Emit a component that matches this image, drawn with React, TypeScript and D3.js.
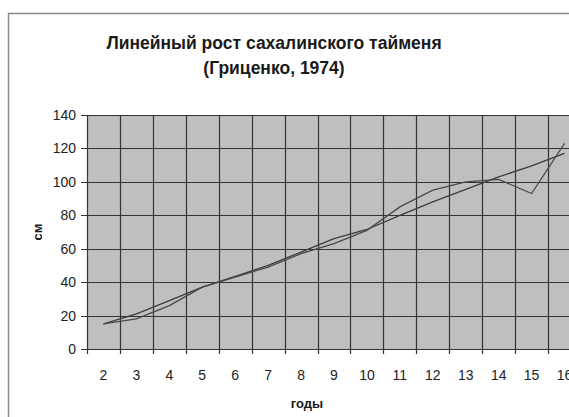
import React, { useEffect, useRef } from 'react';
import * as d3 from 'd3';

const width = 569;
const height = 417;

const margin = { top: 115, left: 87, plotRight: 581, bottom: 349 };

const years = ['2', '3', '4', '5', '6', '7', '8', '9', '10', '11', '12', '13', '14', '15', '16'];
// observed lengths, cm
const observed = [15, 18, 26, 37, 43, 49, 57, 63, 71, 85, 95, 100, 101.5, 93, 123];
// fitted curve, cm
const fitted = [15, 21, 29, 37, 43.5, 50, 58, 66, 71.5, 80, 88, 95.5, 103, 109.5, 117];
const yTicks = [0, 20, 40, 60, 80, 100, 120, 140];

const font = '"Liberation Sans", Arial, sans-serif';

export default function App() {
  const ref = useRef<SVGSVGElement>(null);

  useEffect(() => {
    const svg = d3.select(ref.current);
    svg.selectAll('*').remove();

    const x = d3.scaleBand<string>().domain(years).range([margin.left, margin.plotRight]).paddingInner(0).paddingOuter(0);
    const y = d3.scaleLinear().domain([0, 140]).range([margin.bottom, margin.top]);
    const cx = (d: string) => (x(d) as number) + x.bandwidth() / 2;

    // chart frame
    svg.append('rect')
      .attr('x', 8.5).attr('y', 13.5)
      .attr('width', 700).attr('height', 500)
      .attr('fill', '#fff').attr('stroke', '#8a8a8a').attr('stroke-width', 1.5);

    // plot area
    svg.append('rect')
      .attr('x', margin.left).attr('y', margin.top)
      .attr('width', margin.plotRight - margin.left).attr('height', margin.bottom - margin.top)
      .attr('fill', '#bfbfbf');

    const grid = svg.append('g').attr('stroke', '#333').attr('stroke-width', 1.2);
    grid.selectAll('.h').data(yTicks).enter().append('line')
      .attr('x1', margin.left - 6).attr('x2', margin.plotRight)
      .attr('y1', d => Math.round(y(d)) + 0.5).attr('y2', d => Math.round(y(d)) + 0.5);

    const bounds = years.map(d => x(d) as number).concat([margin.plotRight]);
    grid.selectAll('.v').data(bounds).enter().append('line')
      .attr('x1', d => Math.round(d) + 0.5).attr('x2', d => Math.round(d) + 0.5)
      .attr('y1', margin.top).attr('y2', margin.bottom + 5);

    // y tick labels
    svg.append('g').selectAll('text').data(yTicks).enter().append('text')
      .attr('x', 76).attr('y', d => y(d) + 5)
      .attr('text-anchor', 'end')
      .attr('font-family', font).attr('font-size', 14).attr('fill', '#222')
      .text(d => d);

    // x tick labels
    svg.append('g').selectAll('text').data(years).enter().append('text')
      .attr('x', d => cx(d)).attr('y', 380)
      .attr('text-anchor', 'middle')
      .attr('font-family', font).attr('font-size', 14).attr('fill', '#222')
      .text(d => d);

    const line = d3.line<number>()
      .x((d, i) => cx(years[i]))
      .y(d => y(d));

    svg.append('path').datum(fitted)
      .attr('d', line).attr('fill', 'none').attr('stroke', '#3c3c3c').attr('stroke-width', 1.3);
    svg.append('path').datum(observed)
      .attr('d', line).attr('fill', 'none').attr('stroke', '#4a4a4a').attr('stroke-width', 1.3);

    // titles
    const title = svg.append('text')
      .attr('x', 274).attr('text-anchor', 'middle')
      .attr('font-family', font).attr('font-size', 17.5).attr('font-weight', 'bold').attr('fill', '#1a1a1a');
    title.append('tspan').attr('x', 274).attr('y', 49).text('Линейный рост сахалинского тайменя');
    title.append('tspan').attr('x', 274).attr('y', 74).text('(Гриценко, 1974)');

    svg.append('text')
      .attr('transform', 'translate(42,' + (margin.top + margin.bottom) / 2 + ') rotate(-90)')
      .attr('text-anchor', 'middle')
      .attr('font-family', font).attr('font-size', 13).attr('font-weight', 'bold').attr('fill', '#1a1a1a')
      .text('см');

    svg.append('text')
      .attr('x', 307).attr('y', 408)
      .attr('text-anchor', 'middle')
      .attr('font-family', font).attr('font-size', 13).attr('font-weight', 'bold').attr('fill', '#1a1a1a')
      .text('годы');
  }, []);

  return (
    <svg
      ref={ref}
      width={width}
      height={height}
      style={{ position: 'fixed', left: 0, top: 0, background: '#fff' }}
    />
  );
}
